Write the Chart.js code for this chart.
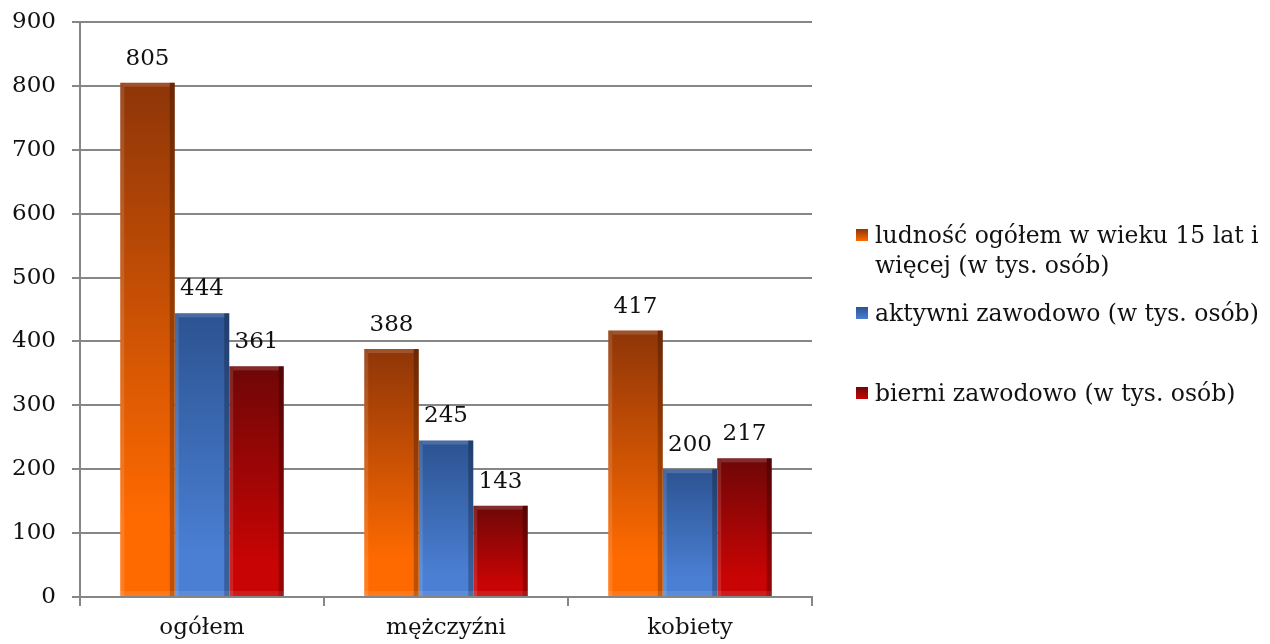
<!DOCTYPE html>
<html lang="pl">
<head>
<meta charset="UTF-8">
<title>Ludność w wieku 15 lat i więcej</title>
<script src="https://cdn.jsdelivr.net/npm/chart.js"></script>
<style>
  html, body { margin: 0; padding: 0; background: #fff; }
  #wrap { position: relative; width: 1270px; height: 644px; }
  #legend { position: absolute; left: 856px; top: 220px; font-family: "DejaVu Serif", serif; font-size: 23.5px; color: #111; }
  .item { position: absolute; left: 0; white-space: nowrap; line-height: 30px; }
  .item .sw { position: absolute; left: 0; top: 9px; width: 12px; height: 12px; }
  .item .tx { position: absolute; left: 19px; top: 0; }
</style>
</head>
<body>
<div id="wrap">
  <canvas id="chart" width="1270" height="644"></canvas>
  <div id="legend"></div>
</div>
<script>
// data
var categories = ['ogółem', 'mężczyźni', 'kobiety'];
var seriesNames = [
    'ludność ogółem w wieku 15 lat i\nwięcej (w tys. osób)',
    'aktywni zawodowo (w tys. osób)',
    'bierni zawodowo (w tys. osób)'
];
var ludnosc = [805, 388, 417];
var aktywni = [444, 245, 200];
var bierni = [361, 143, 217];
var yTicks = [0, 100, 200, 300, 400, 500, 600, 700, 800, 900];

// colours: [top, bottom]
var shades = [
    ['#8e3508', '#ff6a00'],
    ['#2c5391', '#4a7fd3'],
    ['#6e0707', '#c80404']
];
var FONT = '"DejaVu Serif", serif';
var FSIZE = 23;

function barFill(i) {
    return function (ctx) {
        var chart = ctx.chart;
        var area = chart.chartArea;
        if (!area || ctx.type !== 'data') return shades[i][1];
        var top = chart.scales.y.getPixelForValue(ctx.raw);
        var g = chart.ctx.createLinearGradient(0, top, 0, area.bottom);
        g.addColorStop(0, shades[i][0]);
        g.addColorStop(0.85, shades[i][1]);
        g.addColorStop(1, shades[i][1]);
        return g;
    };
}

// bevel-ish edges and value labels
var barExtras = {
    id: 'barExtras',
    afterDatasetsDraw: function (chart) {
        var c = chart.ctx;
        chart.data.datasets.forEach(function (ds, di) {
            chart.getDatasetMeta(di).data.forEach(function (bar, i) {
                var p = bar.getProps(['x', 'y', 'base', 'width'], true);
                var l = p.x - p.width / 2, r = p.x + p.width / 2;
                c.save();
                c.fillStyle = 'rgba(0,0,0,0.25)';
                c.fillRect(r - 5, p.y, 5, p.base - p.y);
                c.fillStyle = 'rgba(255,255,255,0.12)';
                c.fillRect(l, p.y, 4, p.base - p.y);
                c.fillStyle = 'rgba(255,255,255,0.15)';
                c.fillRect(l + 4, p.y, p.width - 9, 4);
                c.fillStyle = 'rgba(255,255,255,0.10)';
                c.fillRect(l, p.base - 5, p.width, 5);
                c.fillStyle = '#111';
                c.font = FSIZE + 'px ' + FONT;
                c.textAlign = 'center';
                c.textBaseline = 'alphabetic';
                c.fillText(ds.data[i], p.x, p.y - 18);
                c.restore();
            });
        });
    }
};

var chart = new Chart(document.getElementById('chart').getContext('2d'), {
    type: 'bar',
    data: {
        labels: categories,
        datasets: [
            { label: seriesNames[0], data: ludnosc, backgroundColor: barFill(0) },
            { label: seriesNames[1], data: aktywni, backgroundColor: barFill(1) },
            { label: seriesNames[2], data: bierni, backgroundColor: barFill(2) }
        ]
    },
    options: {
        responsive: false,
        animation: false,
        layout: { padding: { top: 22, right: 458, left: 0, bottom: 0 } },
        datasets: { bar: { categoryPercentage: 0.67, barPercentage: 1.0 } },
        plugins: { legend: { display: false }, tooltip: { enabled: false } },
        scales: {
            x: {
                grid: { drawOnChartArea: false, offset: true, color: '#868686', lineWidth: 2, tickLength: 9 },
                border: { color: '#868686', width: 2 },
                ticks: { color: '#111', font: { family: FONT, size: FSIZE }, padding: 8 },
                afterFit: function (s) { s.height = 47; s.paddingLeft = 0; s.paddingRight = 0; }
            },
            y: {
                min: 0,
                max: 900,
                afterBuildTicks: function (s) { s.ticks = yTicks.map(function (v) { return { value: v }; }); },
                grid: { color: '#868686', lineWidth: 2, tickLength: 8 },
                border: { color: '#868686', width: 2 },
                ticks: { color: '#111', font: { family: FONT, size: FSIZE }, padding: 16 },
                afterFit: function (s) { s.width = 80; s.paddingTop = 0; s.paddingBottom = 0; }
            }
        }
    },
    plugins: [barExtras]
});

// html legend (first entry wraps like the original)
var legend = document.getElementById('legend');
var tops = [0, 78, 158];
seriesNames.forEach(function (name, i) {
    var it = document.createElement('div');
    it.className = 'item';
    it.style.top = tops[i] + 'px';
    var sw = document.createElement('div');
    sw.className = 'sw';
    sw.style.background = 'linear-gradient(' + shades[i][0] + ',' + shades[i][1] + ')';
    var tx = document.createElement('div');
    tx.className = 'tx';
    tx.innerHTML = name.replace('\n', '<br>');
    it.appendChild(sw);
    it.appendChild(tx);
    legend.appendChild(it);
});
</script>
</body>
</html>
